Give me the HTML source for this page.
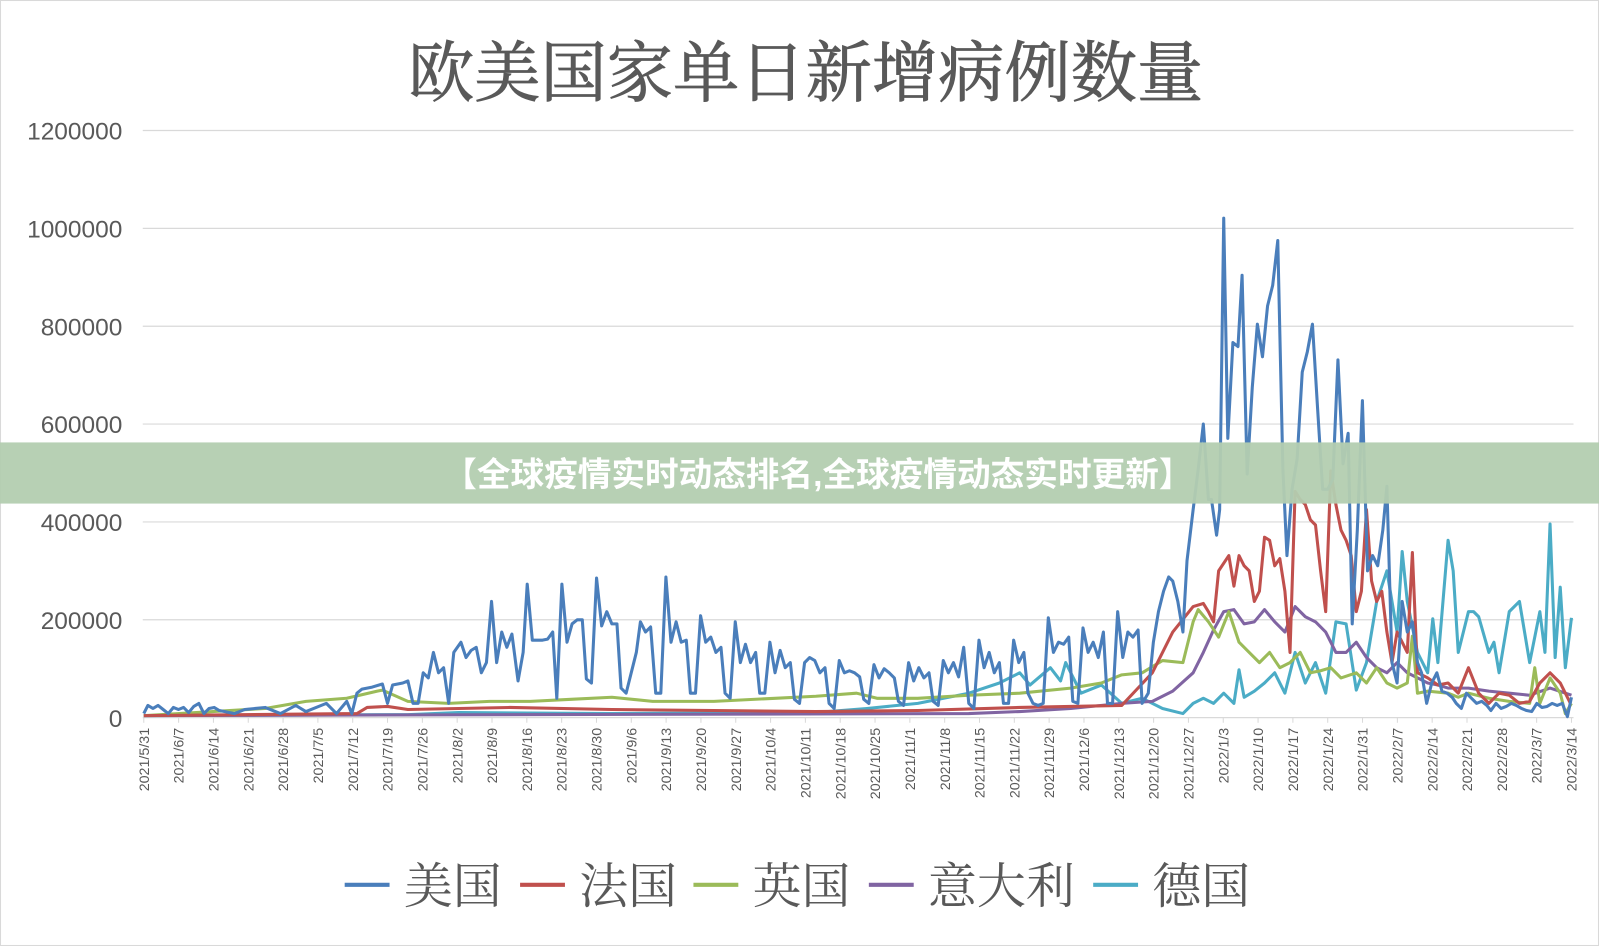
<!DOCTYPE html>
<html><head><meta charset="utf-8"><style>
html,body{margin:0;padding:0;background:#fff;}
svg{display:block}
</style></head><body>
<svg id="s" width="1599" height="946" viewBox="0 0 1568 928" preserveAspectRatio="none" xmlns="http://www.w3.org/2000/svg" font-family="Liberation Sans, Noto Sans CJK SC, sans-serif">
<rect x="0.5" y="0.5" width="1567" height="927" fill="#fff" stroke="#d9d9d9"/>
<text x="790" y="94" text-anchor="middle" font-size="65" fill="#595959" stroke="#595959" stroke-width="0.8" font-family="Liberation Serif, Noto Serif CJK SC, serif">欧美国家单日新增病例数量</text>
<g stroke="#d9d9d9" stroke-width="1.2">
<line x1="140" x2="1543" y1="128" y2="128"/><line x1="140" x2="1543" y1="224" y2="224"/><line x1="140" x2="1543" y1="320" y2="320"/><line x1="140" x2="1543" y1="416" y2="416"/><line x1="140" x2="1543" y1="512" y2="512"/><line x1="140" x2="1543" y1="608" y2="608"/><line x1="140" x2="1543" y1="704" y2="704"/>
</g>
<g font-size="24" fill="#595959" text-anchor="end">
<text x="120" y="137">1200000</text><text x="120" y="233">1000000</text><text x="120" y="329">800000</text><text x="120" y="425">600000</text><text x="120" y="521">400000</text><text x="120" y="617">200000</text><text x="120" y="713">0</text>
</g>
<g id="xl" font-size="14" fill="#595959"></g>
<g id="ticks" stroke="#d9d9d9"></g>
<g id="lines" fill="none" stroke-width="3" stroke-linejoin="round"></g>
<g font-size="48" fill="#595959" font-family="Liberation Serif, Noto Serif CJK SC, serif">
<line x1="338" x2="382" y1="868" y2="868" stroke="#4a7ebb" stroke-width="4"/><text x="396" y="886">美国</text>
<line x1="510" x2="554" y1="868" y2="868" stroke="#c0504d" stroke-width="4"/><text x="568" y="886">法国</text>
<line x1="680" x2="724" y1="868" y2="868" stroke="#9bbb59" stroke-width="4"/><text x="738" y="886">英国</text>
<line x1="852" x2="896" y1="868" y2="868" stroke="#8064a2" stroke-width="4"/><text x="910" y="886">意大利</text>
<line x1="1072" x2="1116" y1="868" y2="868" stroke="#4bacc6" stroke-width="4"/><text x="1130" y="886">德国</text>
</g>
<rect x="0" y="434" width="1568" height="60" fill="#b3cdb0" opacity="0.95"/>
<text x="802" y="477" text-anchor="middle" font-size="33" font-weight="bold" fill="#fff">【全球疫情实时动态排名,全球疫情动态实时更新】</text>
</svg>
<script>
var NS="http://www.w3.org/2000/svg";
var xl=document.getElementById("xl"),tk=document.getElementById("ticks");
var start=new Date(2021,4,31);
for(var i=0;i<=41;i++){var d=new Date(start.getTime()+i*7*864e5);var x=141+i*7*1400/287;
var t=document.createElementNS(NS,"text");t.setAttribute("transform","translate("+(x+5)+",714) rotate(-90)");t.setAttribute("text-anchor","end");
t.textContent=d.getFullYear()+"/"+(d.getMonth()+1)+"/"+d.getDate();xl.appendChild(t);
var l=document.createElementNS(NS,"line");l.setAttribute("x1",x);l.setAttribute("x2",x);l.setAttribute("y1",704);l.setAttribute("y2",709);tk.appendChild(l);}
var S={
"#4bacc6":"141,702 400,701 450,699 600,700 800,699 850,695 900,690 950,680 980,670 1000,660 1010,672 1030,655 1040,668 1045,650 1060,680 1080,672 1100,690 1120,685 1140,695 1160,700 1170,690 1180,685 1190,690 1200,680 1210,690 1215,657 1220,684 1230,678 1240,670 1250,660 1260,680 1270,640 1280,670 1290,650 1300,680 1310,610 1320,612 1330,677 1340,650 1350,590 1360,560 1370,620 1375,541 1380,590 1390,640 1400,660 1405,607 1410,650 1420,530 1425,560 1430,640 1440,600 1445,600 1450,605 1460,640 1465,630 1470,660 1480,600 1490,590 1500,650 1510,600 1515,640 1520,514 1525,645 1530,576 1535,655 1541,606",
"#8064a2":"141,702 950,700 1000,698 1050,695 1100,690 1130,688 1150,678 1170,660 1180,640 1190,618 1200,600 1210,598 1220,612 1230,610 1240,598 1250,610 1260,620 1270,595 1280,605 1290,610 1300,620 1310,640 1320,640 1330,630 1340,645 1350,655 1360,660 1370,650 1380,660 1390,665 1400,670 1410,672 1420,675 1440,675 1460,678 1480,680 1500,682 1520,675 1541,682",
"#9bbb59":"141,702 260,695 300,688 340,685 370,678 375,677 400,688 440,690 480,688 520,688 560,686 600,684 640,688 700,688 760,685 800,683 840,680 860,685 900,685 950,682 1000,680 1050,675 1080,670 1100,662 1120,660 1140,648 1160,650 1170,610 1175,598 1185,610 1195,625 1205,600 1215,630 1225,640 1235,650 1245,640 1255,655 1265,650 1275,640 1285,660 1295,658 1305,655 1315,665 1330,660 1340,670 1350,655 1360,670 1370,675 1380,670 1385,624 1390,680 1400,678 1420,680 1430,684 1440,680 1460,685 1480,688 1500,690 1505,655 1510,690 1520,665 1530,680 1535,700 1541,690",
"#c0504d":"141,702 350,700 360,694 380,693 400,696 500,694 600,696 700,697 800,698 900,697 1000,694 1100,692 1130,660 1150,620 1170,595 1180,592 1185,600 1190,610 1195,560 1205,545 1210,575 1215,545 1220,555 1225,560 1230,590 1235,580 1240,527 1245,530 1250,555 1255,548 1260,580 1265,640 1270,482 1275,490 1280,495 1285,510 1290,515 1295,560 1300,600 1305,462 1310,495 1315,520 1320,530 1325,545 1330,600 1335,580 1340,500 1345,570 1350,590 1355,580 1360,620 1365,650 1370,620 1380,640 1385,542 1390,660 1400,665 1410,672 1420,670 1430,680 1440,655 1450,680 1460,690 1470,680 1480,682 1490,690 1500,688 1510,670 1520,660 1530,670 1540,690",
"#4a7ebb":"141,700 145,692 150,695 155,692 160,696 165,700 170,694 175,696 180,694 185,699 190,693 195,690 200,700 205,695 210,694 215,697 220,698 230,700 240,696 260,694 275,700 290,692 300,698 320,690 330,700 340,688 345,700 350,680 355,676 365,674 375,671 380,690 385,672 395,670 400,668 405,690 410,690 415,660 420,665 425,640 430,660 435,655 440,690 445,640 452,630 457,645 462,638 467,635 472,660 477,650 482,590 487,650 492,620 497,635 502,622 508,668 513,640 517,573 522,628 527,628 532,628 537,627 542,620 546,685 551,573 556,630 561,612 566,608 571,608 575,666 580,670 585,567 590,614 595,600 600,612 605,612 609,675 614,680 619,660 624,640 628,610 633,620 638,615 643,680 648,680 653,566 658,630 663,610 668,630 673,628 677,680 682,680 687,604 692,630 697,625 702,640 707,635 711,680 716,685 721,610 726,650 731,632 736,650 741,640 745,680 750,680 755,630 760,660 765,638 770,655 775,650 779,686 784,690 789,650 794,645 799,648 804,660 809,655 813,690 818,695 823,648 828,660 833,658 838,660 843,664 847,686 852,690 857,652 862,665 867,656 872,660 877,665 881,688 886,692 891,650 896,668 901,655 906,665 911,660 915,688 920,692 925,648 930,660 935,650 940,664 945,635 950,690 955,695 960,628 965,655 970,640 975,660 980,650 984,690 989,690 994,628 999,650 1004,640 1008,680 1013,690 1018,692 1023,690 1028,606 1033,640 1038,630 1043,632 1048,625 1052,688 1057,690 1062,616 1067,640 1072,630 1077,645 1082,620 1086,690 1091,690 1096,600 1101,645 1106,620 1111,625 1116,618 1120,690 1126,680 1131,630 1136,600 1141,580 1146,566 1150,570 1155,590 1160,620 1164,550 1170,500 1175,460 1180,416 1185,490 1188,490 1193,525 1196,500 1200,214 1204,430 1209,336 1214,340 1218,270 1223,465 1228,380 1233,318 1238,350 1243,300 1248,280 1253,236 1258,460 1262,545 1267,480 1272,450 1277,365 1282,345 1287,318 1292,400 1297,480 1302,480 1307,470 1312,353 1317,455 1322,425 1326,612 1331,520 1336,393 1341,560 1346,545 1351,555 1356,520 1360,477 1365,650 1370,670 1375,590 1380,620 1385,610 1390,650 1394,660 1399,690 1404,670 1409,660 1414,678 1419,680 1424,684 1428,690 1433,695 1438,680 1443,685 1448,690 1453,688 1458,692 1462,697 1467,690 1472,695 1477,693 1482,690 1487,692 1492,695 1497,697 1502,698 1507,690 1512,694 1517,693 1522,690 1527,692 1532,690 1537,703 1541,684"
};
var g=document.getElementById("lines");
["#4bacc6","#8064a2","#9bbb59","#c0504d","#4a7ebb"].forEach(function(c){var p=document.createElementNS(NS,"polyline");p.setAttribute("points",S[c]);p.setAttribute("stroke",c);g.appendChild(p);});
</script>
</body></html>
